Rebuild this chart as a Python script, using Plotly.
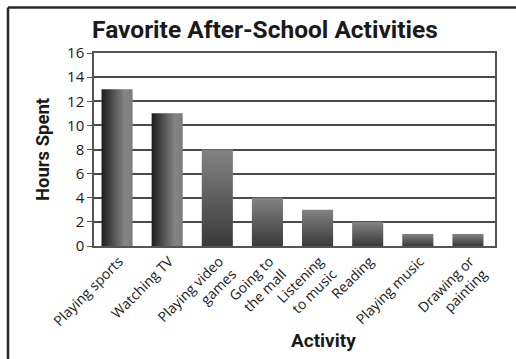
import plotly.graph_objects as go

categories = ["Playing sports", "Watching TV", "Playing video<br>games", "Going to<br>the mall",
              "Listening<br>to music", "Reading", "Playing music", "Drawing or<br>painting"]
hours = [13, 11, 8, 4, 3, 2, 1, 1]
gradient_dir = ["horizontal", "horizontal", "vertical", "vertical", "vertical", "vertical", "vertical", "vertical"]
y_ticks = [0, 2, 4, 6, 8, 10, 12, 14, 16]

COND = "Roboto, sans-serif"
BAR_W = 0.62
fig = go.Figure()
for i, (v, g) in enumerate(zip(hours, gradient_dir)):
    x0, x1 = i - BAR_W / 2 - 0.04, i + BAR_W / 2 - 0.04
    if g == "horizontal":
        cs = [[0, "#1c1c1c"], [0.75, "#858585"], [1, "#7c7c7c"]]
    else:
        cs = [[0, "#393939"], [1, "#838383"]]
    fig.add_trace(go.Scatter(
        x=[x0, x1, x1, x0, x0], y=[0, 0, v, v, 0],
        mode="lines", line=dict(width=0), fill="toself",
        fillgradient=dict(type=g, colorscale=cs),
        showlegend=False, hoverinfo="skip"))

fig.update_layout(
    width=516, height=359,
    margin=dict(l=94, r=21, t=53, b=113),
    paper_bgcolor="white", plot_bgcolor="white",
    title=dict(text="<b>Favorite After-School Activities</b>", x=(265 - 94) / 401, xref="paper",
               xanchor="center", y=0.918, yanchor="middle",
               font=dict(family=COND, size=24.5, color="#1a1a1a")),
    xaxis=dict(range=[-0.5, 7.5], tickmode="array", tickvals=list(range(len(categories))),
               ticktext=categories, tickangle=-45, showgrid=False, zeroline=False,
               showline=True, linecolor="#555", linewidth=1.5, mirror=True, ticks="",
               tickfont=dict(family="Open Sans", size=14, color="#1a1a1a")),
    yaxis=dict(range=[0, 16], tickmode="array", tickvals=y_ticks, showgrid=True,
               gridcolor="#4a4a4a", gridwidth=1.5, zeroline=False,
               showline=True, linecolor="#555", linewidth=1.5, mirror=True,
               ticks="outside", ticklen=5, tickcolor="#555",
               tickfont=dict(family="Open Sans", size=15, color="#1a1a1a"),
               title=dict(text="<b>Hours Spent</b>", standoff=13,
                          font=dict(family=COND, size=18.5, color="#1a1a1a"))),
    shapes=[
        dict(type="line", xref="paper", yref="paper", x0=(8 - 94) / 401, x1=(520 - 94) / 401,
             y0=(246 - 7.5) / 193, y1=(246 - 7.5) / 193, line=dict(color="#2a2a2a", width=2.5)),
        dict(type="line", xref="paper", yref="paper", x0=(8 - 94) / 401, x1=(8 - 94) / 401,
             y0=(246 - 7.5) / 193, y1=(246 - 365) / 193, line=dict(color="#2a2a2a", width=2.5)),
    ],
    annotations=[dict(text="<b>Activity</b>", xref="paper", yref="paper",
                      x=(323 - 94) / 401, y=(246 - 340) / 193, xanchor="center", yanchor="middle",
                      showarrow=False,
                      font=dict(family=COND, size=19, color="#1a1a1a"))],
)

fig.write_html("out.html")
